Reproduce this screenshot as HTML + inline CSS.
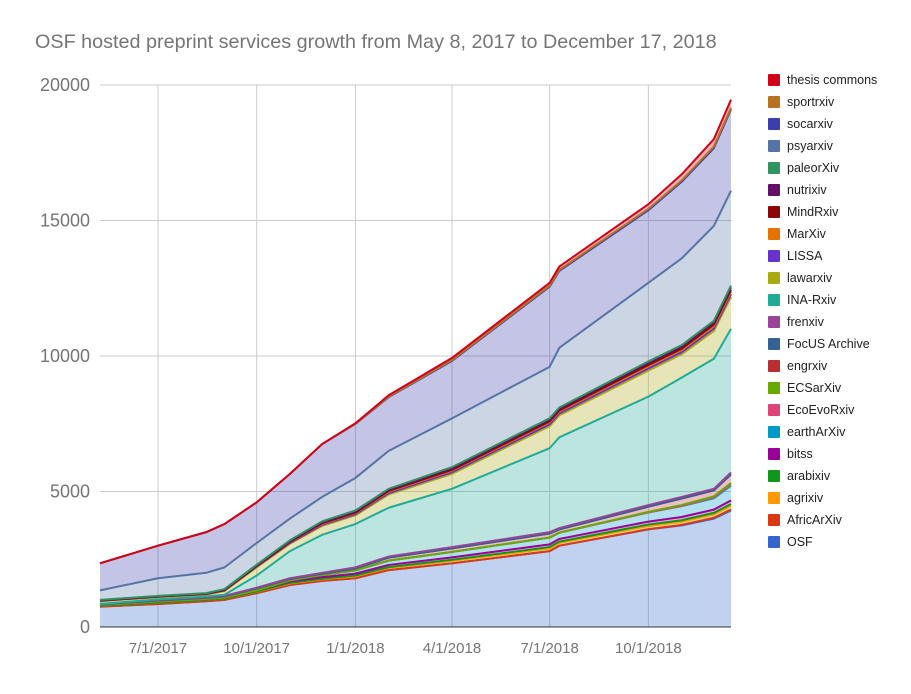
<!DOCTYPE html>
<html><head><meta charset="utf-8"><style>
body{margin:0;background:#fff;font-family:"Liberation Sans",Arial,sans-serif}
svg text{font-family:"Liberation Sans",Arial,sans-serif}
</style></head><body>
<svg id="chart" width="911" height="689" viewBox="0 0 911 689">
<text x="35" y="48" font-size="19.8" fill="#757575">OSF hosted preprint services growth from May 8, 2017 to December 17, 2018</text>
<g id="grid"></g>
<g id="areas"></g>
<g id="axes"></g>
<g id="legend"></g>
</svg>
<script>
const dates=["2017-05-08","2017-07-01","2017-08-15","2017-09-01","2017-10-01","2017-11-01","2017-12-01","2018-01-01","2018-02-01","2018-04-01","2018-07-01","2018-07-10","2018-10-01","2018-11-01","2018-12-01","2018-12-17"];
const seriesNames=["OSF","AfricArXiv","agrixiv","arabixiv","bitss","earthArXiv","EcoEvoRxiv","ECSarXiv","engrxiv","FocUS Archive","frenxiv","INA-Rxiv","lawarxiv","LISSA","MarXiv","MindRxiv","nutrixiv","paleorXiv","psyarxiv","socarxiv","sportrxiv","thesis commons"];
const seriesColors=["#3366cc","#dc3912","#ff9900","#109618","#990099","#0099c6","#dd4477","#66aa00","#b82e2e","#316395","#994499","#22aa99","#aaaa11","#6633cc","#e67300","#8b0707","#651067","#329262","#5574a6","#3b3eac","#b77322","#d0021b"];
const osf=[750,850,950,1000,1250,1550,1700,1800,2100,2350,2800,3000,3600,3750,4000,4300];
const africarxiv=[0,0,0,0,0,0,0,0,0,0,0,0,10,20,30,40];
const agrixiv=[40,50,50,50,50,60,60,70,80,90,100,100,110,110,120,130];
const arabixiv=[0,0,0,0,10,20,20,30,30,40,50,50,60,60,60,70];
const bitss=[30,40,40,40,40,50,60,70,80,90,100,100,110,120,120,130];
const earthArXiv=[0,0,0,0,0,40,80,120,160,200,250,230,340,400,420,550];
const ecoEvoRxiv=[0,0,0,0,0,0,0,0,0,0,0,0,0,10,30,40];
const ecsarxiv=[0,0,0,0,0,0,0,0,0,0,0,0,20,30,40,50];
const engrxiv=[20,40,40,40,80,50,50,70,110,130,150,120,190,240,220,320];
const focus=[0,0,0,0,0,0,0,0,0,0,0,0,0,0,0,0];
const frenxiv=[10,20,20,20,20,30,30,40,40,50,50,50,60,60,60,70];
const inaRxiv=[0,20,30,40,450,1000,1400,1600,1800,2150,3100,3350,4000,4400,4800,5300];
const lawarxiv=[100,80,70,140,300,270,330,320,490,550,810,810,960,860,1020,1180];
const lissa=[20,20,20,20,30,30,40,40,50,60,70,70,80,80,90,100];
const marxiv=[0,0,0,0,20,30,40,40,50,60,70,70,80,80,90,100];
const mindrxiv=[0,0,0,0,0,10,20,20,30,30,40,40,50,50,60,60];
const nutrixiv=[10,10,10,20,20,30,30,40,40,50,60,60,70,70,80,90];
const paleorxiv=[20,20,20,30,30,30,40,40,40,50,50,50,60,60,60,70];
const psyarxiv=[350,650,750,800,800,800,900,1200,1400,1800,1900,2200,2900,3200,3500,3500];
const socarxiv=[1000,1200,1500,1600,1500,1650,1950,1990,1980,2120,2960,2840,2680,2830,2870,3000];
const sportrxiv=[0,0,0,0,0,0,0,10,20,30,40,40,50,50,60,60];
const thesisCommons=[0,0,0,0,0,0,0,20,50,80,100,120,170,220,270,300];
const yTicks=[0,5000,10000,15000,20000];
const xTickLabels=["7/1/2017","10/1/2017","1/1/2018","4/1/2018","7/1/2018","10/1/2018"];
const xTickDates=["2017-07-01","2017-10-01","2018-01-01","2018-04-01","2018-07-01","2018-10-01"];

const values=[osf,africarxiv,agrixiv,arabixiv,bitss,earthArXiv,ecoEvoRxiv,ecsarxiv,engrxiv,focus,frenxiv,inaRxiv,lawarxiv,lissa,marxiv,mindrxiv,nutrixiv,paleorxiv,psyarxiv,socarxiv,sportrxiv,thesisCommons];
const NS="http://www.w3.org/2000/svg";
const t0=Date.parse("2017-05-08"),t1=Date.parse("2018-12-17");
const X0=100,X1=731,Y0=627,Y1=85;
function xs(d){return X0+(Date.parse(d)-t0)/(t1-t0)*(X1-X0);}
function ys(v){return Y0-v/20000*(Y0-Y1);}
function mk(tag,attrs,parent){const e=document.createElementNS(NS,tag);for(const k in attrs)e.setAttribute(k,attrs[k]);parent.appendChild(e);return e;}
const grid=document.getElementById('grid'),axes=document.getElementById('axes'),areas=document.getElementById('areas'),legend=document.getElementById('legend');
yTicks.forEach(v=>{
  if(v>0){const l=mk('line',{x1:X0,x2:X1,y1:ys(v),y2:ys(v),stroke:'#cccccc','stroke-width':1},grid);
  
  }
  const t=mk('text',{x:90,y:ys(v)+6,'text-anchor':'end','font-size':18,fill:'#757575'},axes);
  t.textContent=v;
  
  
});
xTickDates.forEach((d,i)=>{
  const l=mk('line',{x1:xs(d),x2:xs(d),y1:Y1,y2:Y0,stroke:'#cccccc','stroke-width':1},grid);
  
  
  const t=mk('text',{x:xs(d),y:653,'text-anchor':'middle','font-size':15,fill:'#757575'},axes);
  t.textContent=xTickLabels[i];
  
  
});
const cum=dates.map(()=>0);
const tops=[];
values.forEach((arr,s)=>{
  const lower=cum.slice();
  arr.forEach((v,i)=>cum[i]+=v);
  const upper=cum.slice();
  tops.push(upper);
  let p=dates.map((d,i)=>xs(d)+','+ys(upper[i])).join(' ');
  let q=dates.map((d,i)=>xs(d)+','+ys(lower[i])).reverse().join(' ');
  const a=mk('polygon',{points:p+' '+q,fill:seriesColors[s],'fill-opacity':0.3,stroke:'none'},areas);
  
  
});
tops.forEach((upper,s)=>{
  const l=mk('polyline',{points:dates.map((d,i)=>xs(d)+','+ys(upper[i])).join(' '),fill:'none',stroke:seriesColors[s],'stroke-width':2,'stroke-linejoin':'round'},areas);
  
  
});
const base=mk('line',{x1:X0,x2:X1,y1:Y0,y2:Y0,stroke:'#333333','stroke-width':1},axes);


for(let k=0;k<seriesNames.length;k++){
  const s=seriesNames.length-1-k;
  const y=80+k*22;
  const g=mk('g',{},legend);
  
  
  mk('rect',{x:768,y:y-6,width:12,height:12,rx:1,fill:seriesColors[s]},g);
  const t=mk('text',{x:787,y:y+4,'font-size':12.5,fill:'#222222'},g);
  t.textContent=seriesNames[s];
}
</script>
</body></html>
